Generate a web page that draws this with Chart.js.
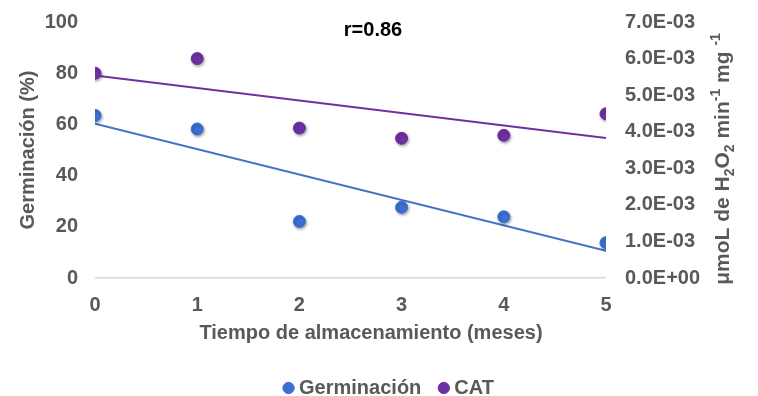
<!DOCTYPE html>
<html>
<head>
<meta charset="utf-8">
<script src="https://cdn.jsdelivr.net/npm/chart.js@4.4.1/dist/chart.umd.min.js"></script>
<style>
  html, body { margin: 0; padding: 0; background: #fff; }
  canvas { display: block; }
</style>
</head>
<body>
<canvas id="chart" width="758" height="396"></canvas>
<script>
'use strict';

// months of storage
const months = [0, 1, 2, 3, 4, 5];
// germination (%) - left axis
const germinacion = [63.5, 58.2, 22.1, 27.6, 23.9, 13.8];
// CAT activity - right axis
const cat = [5.6e-3, 6.0e-3, 4.1e-3, 3.82e-3, 3.9e-3, 4.49e-3];
// trend line end points (x = 0 and x = 5)
const trendX = [0, 5];
const germTrend = [60.3, 10.6];
const catTrend = [5.54e-3, 3.83e-3];

const gray = '#595959';
const blue = '#3B6FD4';
const purple = '#7030A0';
const font = 'Liberation Sans, Arial, sans-serif';

const toPoints = (xs, ys) => xs.map((x, i) => ({ x: x, y: ys[i] }));

const sciLabel = (v) => {
	if (v === 0) return '0.0E+00';
	const exp = Math.floor(Math.log10(v) + 1e-9);
	const mant = v / Math.pow(10, exp);
	const sign = exp < 0 ? '-' : '+';
	return mant.toFixed(1) + 'E' + sign + String(Math.abs(exp)).padStart(2, '0');
};

// soft shadow under the markers
const shadowPlugin = {
	id: 'shadow',
	beforeDatasetDraw(chart, args) {
		const ds = chart.data.datasets[args.index];
		if (ds.type === 'line') return;
		const ctx = chart.ctx;
		ctx.save();
		ctx.shadowColor = 'rgba(0,0,0,0.35)';
		ctx.shadowBlur = 3;
		ctx.shadowOffsetX = 1;
		ctx.shadowOffsetY = 1.5;
	},
	afterDatasetDraw(chart, args) {
		const ds = chart.data.datasets[args.index];
		if (ds.type === 'line') return;
		chart.ctx.restore();
	}
};

// r value, x title and the right axis title (with sub/superscripts)
const textPlugin = {
	id: 'texts',
	afterDraw(chart) {
		const ctx = chart.ctx;
		ctx.save();
		ctx.fillStyle = '#000';
		ctx.font = 'bold 20px ' + font;
		ctx.textAlign = 'center';
		ctx.textBaseline = 'middle';
		ctx.fillText('r=0.86', 373, 30);

		ctx.fillStyle = gray;
		ctx.fillText('Tiempo de almacenamiento (meses)', 371, 333);

		const parts = [
			['μmoL de H', 0],
			['2', 1],
			['O', 0],
			['2', 1],
			[' min', 0],
			['-1', -1],
			[' mg ', 0],
			['-1', -1]
		];
		const big = 'bold 21px ' + font;
		const small = 'bold 14px ' + font;
		let total = 0;
		parts.forEach(p => {
			ctx.font = p[1] === 0 ? big : small;
			total += ctx.measureText(p[0]).width;
		});
		ctx.translate(722, 159);
		ctx.rotate(-Math.PI / 2);
		ctx.textAlign = 'left';
		ctx.textBaseline = 'alphabetic';
		let x = -total / 2;
		parts.forEach(p => {
			ctx.font = p[1] === 0 ? big : small;
			const dy = p[1] === 1 ? 5 : (p[1] === -1 ? -9 : 0);
			ctx.fillText(p[0], x, 7 + dy);
			x += ctx.measureText(p[0]).width;
		});
		ctx.restore();
	}
};

new Chart(document.getElementById('chart').getContext('2d'), {
	type: 'scatter',
	data: {
		datasets: [
			{
				label: 'Germinación',
				data: toPoints(months, germinacion),
				yAxisID: 'y',
				backgroundColor: blue,
				borderColor: blue,
				pointRadius: 6,
				order: 1
			},
			{
				label: 'CAT',
				data: toPoints(months, cat),
				yAxisID: 'y1',
				backgroundColor: purple,
				borderColor: purple,
				pointRadius: 6,
				order: 1
			},
			{
				type: 'line',
				label: 'trend germ',
				data: toPoints(trendX, germTrend),
				yAxisID: 'y',
				borderColor: '#4472C4',
				borderWidth: 2,
				pointRadius: 0,
				fill: false,
				order: 2
			},
			{
				type: 'line',
				label: 'trend cat',
				data: toPoints(trendX, catTrend),
				yAxisID: 'y1',
				borderColor: purple,
				borderWidth: 2,
				pointRadius: 0,
				fill: false,
				order: 2
			}
		]
	},
	options: {
		responsive: false,
		animation: false,
		layout: { padding: { left: 12, right: -12, top: 22, bottom: -12 } },
		plugins: {
			title: { display: false },
			tooltip: { enabled: false },
			legend: {
				position: 'bottom',
				labels: {
					filter: (item) => item.datasetIndex < 2,
					usePointStyle: true,
					boxWidth: 1,
					boxHeight: 8,
					padding: 22,
					color: gray,
					font: { family: font, size: 20, weight: 'bold' }
				}
			}
		},
		scales: {
			x: {
				type: 'linear',
				min: 0,
				max: 5,
				ticks: {
					stepSize: 1,
					color: gray,
					padding: 7,
					font: { family: font, size: 20, weight: 'bold' }
				},
				grid: { display: false },
				border: { display: false },
				title: { display: false },
				afterFit: (scale) => { scale.height = 78; }
			},
			y: {
				position: 'left',
				min: 0,
				max: 100,
				ticks: {
					stepSize: 20,
					color: gray,
					padding: 17,
					font: { family: font, size: 20, weight: 'bold' }
				},
				grid: {
					drawTicks: false,
					color: (c) => c.tick && c.tick.value === 0 ? '#d9d9d9' : 'rgba(0,0,0,0)',
					lineWidth: 1.5
				},
				border: { display: false },
				title: {
					display: true,
					text: 'Germinación (%)',
					color: gray,
					padding: { top: 4, bottom: 0 },
					font: { family: font, size: 20, weight: 'bold' }
				},
				afterFit: (scale) => { scale.width = 83; scale.paddingTop = 0; }
			},
			y1: {
				position: 'right',
				min: 0,
				max: 0.007,
				ticks: {
					stepSize: 0.001,
					color: gray,
					padding: 19,
					font: { family: font, size: 20, weight: 'bold' },
					callback: (v) => sciLabel(v)
				},
				grid: { display: false, drawTicks: false },
				border: { display: false },
				afterFit: (scale) => { scale.width = 164; scale.paddingTop = 0; }
			}
		}
	},
	plugins: [shadowPlugin, textPlugin]
});
</script>
</body>
</html>
